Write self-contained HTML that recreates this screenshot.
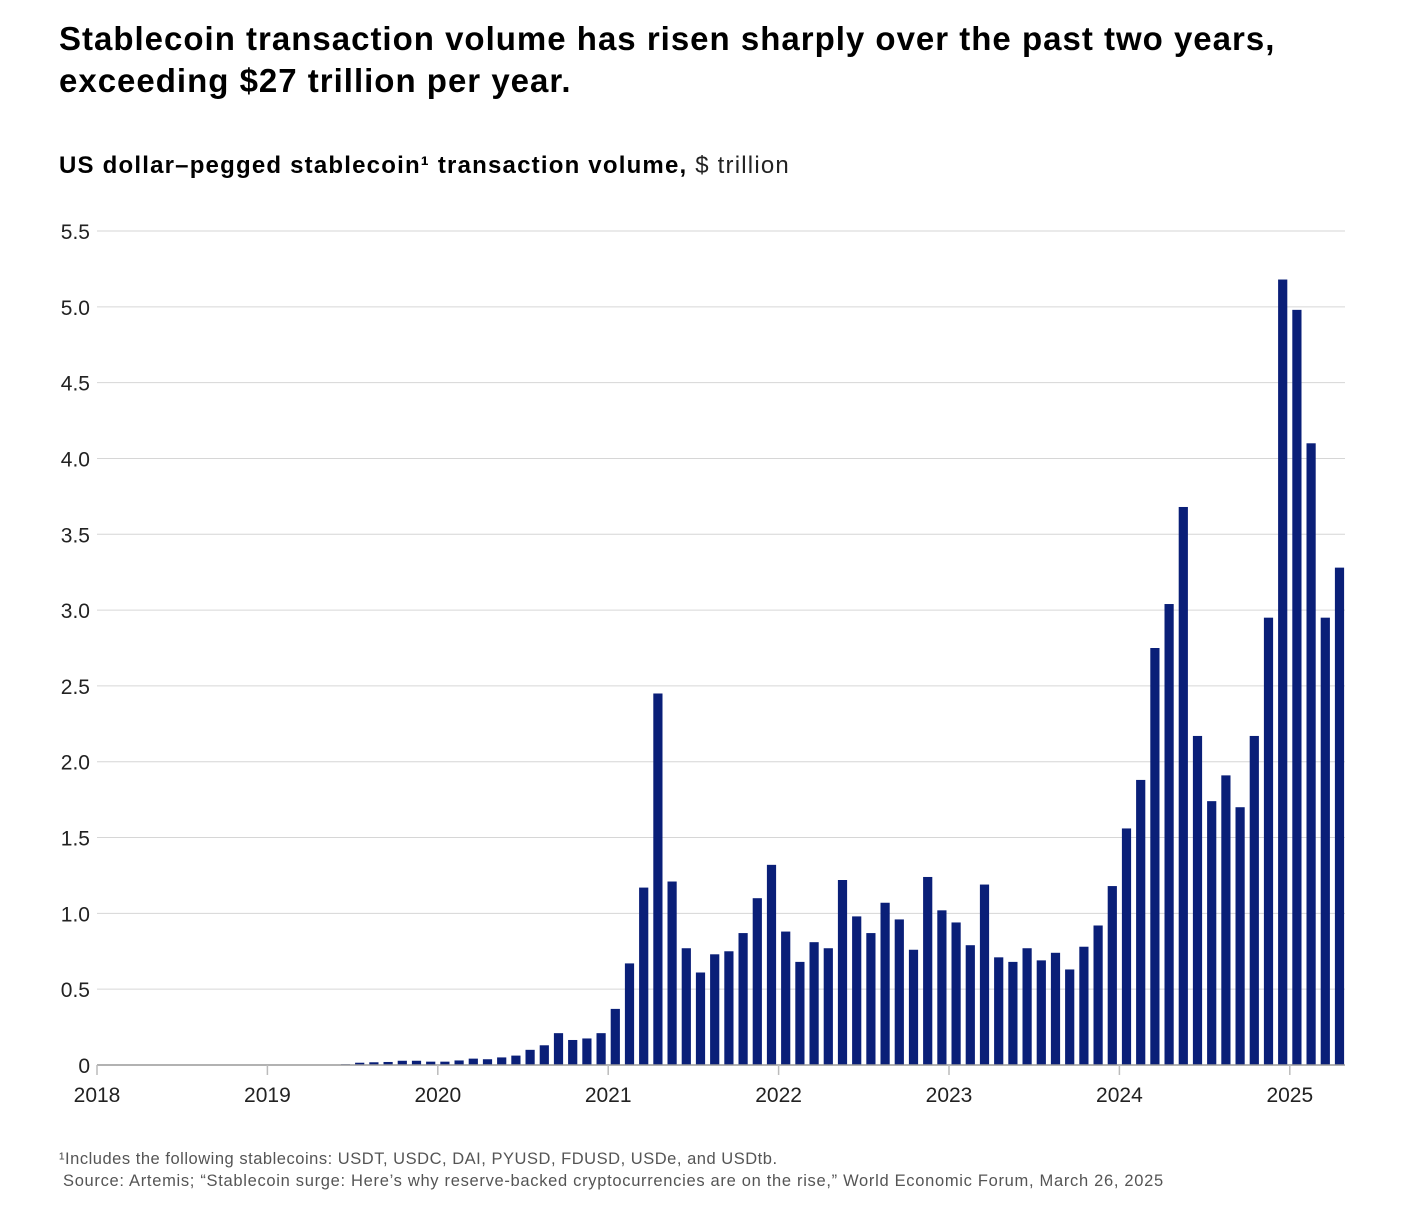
<!DOCTYPE html>
<html><head><meta charset="utf-8">
<style>
body{margin:0;background:#fff;width:1408px;height:1210px;overflow:hidden;font-family:"Liberation Sans",sans-serif;color:#000}
.t{position:absolute;left:59px;top:18px;font-size:33px;font-weight:bold;line-height:42px;letter-spacing:1px;white-space:nowrap}
.s{position:absolute;left:59px;top:152px;font-size:24px;font-weight:bold;letter-spacing:1.2px;white-space:nowrap}
.s span{font-weight:normal;color:#222}
.f{position:absolute;left:59px;font-size:16.5px;color:#555;white-space:nowrap}
</style></head><body>
<div class="t">Stablecoin transaction volume has risen sharply over the past two years,<br>exceeding $27 trillion per year.</div>
<div class="s">US dollar–pegged stablecoin¹ transaction volume, <span>$ trillion</span></div>
<svg id="c" width="1408" height="1210" style="position:absolute;left:0;top:0"></svg>
<div class="f" style="top:1150px;letter-spacing:0.52px">¹Includes the following stablecoins: USDT, USDC, DAI, PYUSD, FDUSD, USDe, and USDtb.</div>
<div class="f" style="top:1172px;left:63px;letter-spacing:0.69px">Source: Artemis; “Stablecoin surge: Here’s why reserve-backed cryptocurrencies are on the rise,” World Economic Forum, March 26, 2025</div>
<script>
const years=["2018","2019","2020","2021","2022","2023","2024","2025"];
const yTicks=[0,0.5,1,1.5,2,2.5,3,3.5,4,4.5,5,5.5];
const yTickLabels=["0","0.5","1.0","1.5","2.0","2.5","3.0","3.5","4.0","4.5","5.0","5.5"];
const v2018=[0,0,0,0,0,0,0,0,0,0,0.001,0.001];
const v2019=[0.001,0.001,0.001,0.002,0.003,0.005,0.015,0.018,0.02,0.028,0.028,0.022];
const v2020=[0.022,0.03,0.042,0.038,0.05,0.062,0.10,0.13,0.21,0.165,0.175,0.21];
const v2021=[0.37,0.67,1.17,2.45,1.21,0.77,0.61,0.73,0.75,0.87,1.10,1.32];
const v2022=[0.88,0.68,0.81,0.77,1.22,0.98,0.87,1.07,0.96,0.76,1.24,1.02];
const v2023=[0.94,0.79,1.19,0.71,0.68,0.77,0.69,0.74,0.63,0.78,0.92,1.18];
const v2024=[1.56,1.88,2.75,3.04,3.68,2.17,1.74,1.91,1.70,2.17,2.95,5.18];
const v2025=[4.98,4.10,2.95,3.28];
const values=[].concat(v2018,v2019,v2020,v2021,v2022,v2023,v2024,v2025);
const NS="http://www.w3.org/2000/svg";
const svg=document.getElementById('c');
const X0=97,X1=1345,YR=170.4,Y0=1065,Y1=231;
const x=m=>X0+m*YR/12;
const y=v=>Y0-(v/5.5)*(Y0-Y1);
function mk(t,a){const e=document.createElementNS(NS,t);for(const k in a)e.setAttribute(k,a[k]);svg.appendChild(e);return e;}
yTicks.forEach((t,i)=>{
 if(t>0){const g=mk('line',{x1:X0,x2:X1,y1:y(t),y2:y(t),stroke:'#d6d6d6','stroke-width':1});
 
 }
 const l=mk('text',{x:90,y:y(t)+8,'text-anchor':'end','font-size':21,fill:'#222','font-family':'Liberation Sans'});
 l.textContent=yTickLabels[i];
 
 
});
values.forEach((v,i)=>{
 const b=mk('rect',{x:x(i+0.5)-4.6,y:y(v),width:9.2,height:Math.max(0,Y0-y(v)),fill:'#0a1f78'});
 
 
});
const ax=mk('line',{x1:X0,x2:X1,y1:Y0,y2:Y0,stroke:'#999','stroke-width':1.5});


years.forEach((yr,i)=>{
 const tk=mk('line',{x1:x(i*12),x2:x(i*12),y1:Y0,y2:Y0+10,stroke:'#bbb','stroke-width':1.5});
 
 
 const l=mk('text',{x:x(i*12),y:Y0+37,'text-anchor':'middle','font-size':21,fill:'#222','font-family':'Liberation Sans'});
 l.textContent=yr;
 
 
});
</script>
</body></html>
